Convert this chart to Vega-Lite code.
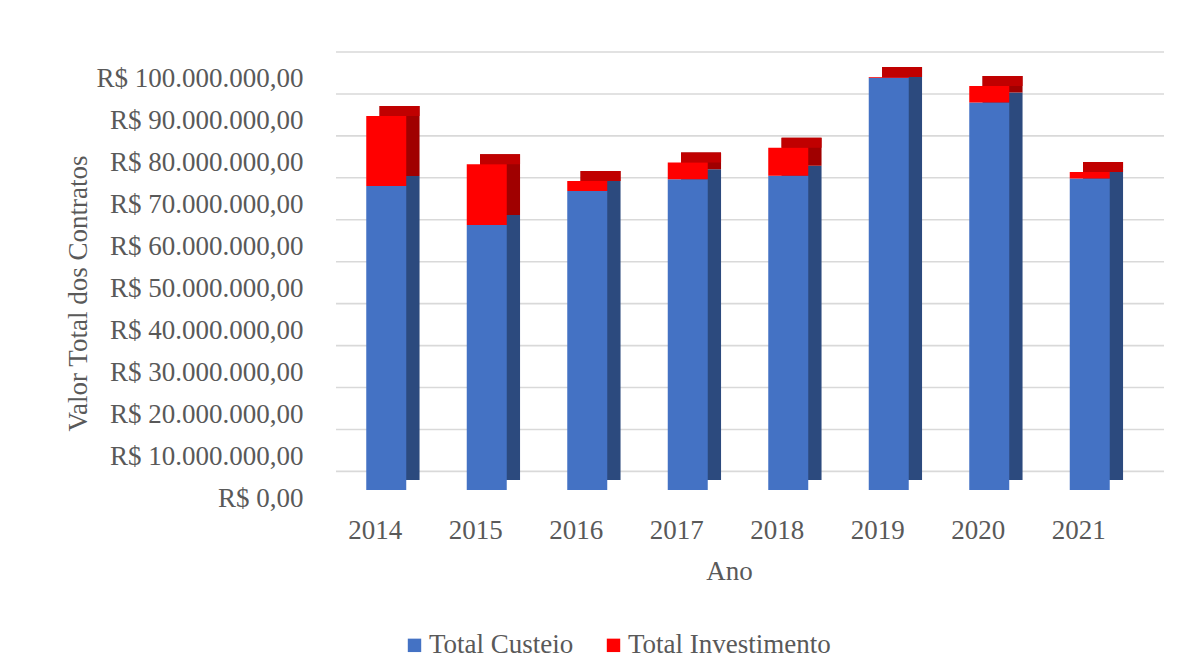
{
  "$schema": "https://vega.github.io/schema/vega-lite/v6.json",
  "autosize": "none",
  "width": 804,
  "height": 419.4,
  "padding": {"left": 336, "top": 70.6, "right": 62, "bottom": 182},
  "background": "white",
  "config": {
    "locale": {"number": {"decimal": ",", "thousands": ".", "grouping": [3], "currency": ["R$ ", ""]}},
    "font": "Liberation Serif",
    "view": {"stroke": null},
    "axis": {
      "labelFont": "Liberation Serif",
      "titleFont": "Liberation Serif",
      "labelColor": "#595959",
      "titleColor": "#595959",
      "labelFontSize": 27,
      "titleFontSize": 27,
      "titleFontWeight": "normal",
      "labelLimit": 0,
      "domain": false,
      "ticks": false,
      "grid": false
    },
    "legend": {
      "labelFont": "Liberation Serif",
      "labelFontSize": 27,
      "labelColor": "#595959",
      "labelLimit": 0,
      "symbolType": "square",
      "symbolSize": 180,
      "symbolStrokeWidth": 0,
      "labelOffset": 1,
      "columnPadding": 26
    }
  },
  "datasets": {
    "contratos": [
      {"ano": "2014", "serie": "Total Custeio", "valor": 72500000},
      {"ano": "2014", "serie": "Total Investimento", "valor": 16700000},
      {"ano": "2015", "serie": "Total Custeio", "valor": 63200000},
      {"ano": "2015", "serie": "Total Investimento", "valor": 14500000},
      {"ano": "2016", "serie": "Total Custeio", "valor": 71300000},
      {"ano": "2016", "serie": "Total Investimento", "valor": 2400000},
      {"ano": "2017", "serie": "Total Custeio", "valor": 74100000},
      {"ano": "2017", "serie": "Total Investimento", "valor": 4000000},
      {"ano": "2018", "serie": "Total Custeio", "valor": 74900000},
      {"ano": "2018", "serie": "Total Investimento", "valor": 6700000},
      {"ano": "2019", "serie": "Total Custeio", "valor": 98300000},
      {"ano": "2019", "serie": "Total Investimento", "valor": 150000},
      {"ano": "2020", "serie": "Total Custeio", "valor": 92400000},
      {"ano": "2020", "serie": "Total Investimento", "valor": 3900000},
      {"ano": "2021", "serie": "Total Custeio", "valor": 74300000},
      {"ano": "2021", "serie": "Total Investimento", "valor": 1500000}
    ],
    "grade": [
      {"v": 0}, {"v": 10000000}, {"v": 20000000}, {"v": 30000000}, {"v": 40000000},
      {"v": 50000000}, {"v": 60000000}, {"v": 70000000}, {"v": 80000000}, {"v": 90000000}, {"v": 100000000}
    ]
  },
  "layer": [
    {
      "data": {"name": "grade"},
      "mark": {"type": "rule", "xOffset": 24, "yOffset": -18.6, "color": "#D9D9D9", "strokeWidth": 1.6},
      "encoding": {
        "y": {
          "field": "v",
          "type": "quantitative",
          "scale": {"domain": [0, 100000000], "nice": false},
          "axis": {
            "title": "Valor Total dos Contratos",
            "values": [0, 10000000, 20000000, 30000000, 40000000, 50000000, 60000000, 70000000, 80000000, 90000000, 100000000],
            "format": "$,.2f",
            "labelOffset": 8,
            "labelPadding": 33,
            "titleX": -249.3,
            "titleY": 222.4,
            "titleBaseline": "alphabetic",
            "titleAngle": -90
          }
        }
      }
    },
    {
      "data": {"name": "contratos"},
      "mark": {"type": "bar", "xOffset": 13.3, "yOffset": -10, "width": {"band": 0.398}},
      "encoding": {
        "x": {
          "field": "ano",
          "type": "ordinal",
          "scale": {"paddingInner": 0, "paddingOuter": 0},
          "axis": {"title": "Ano", "labelAngle": 0, "labelOffset": -11, "labelPadding": 27, "titlePadding": 15, "titleX": 393}
        },
        "y": {
          "field": "valor",
          "type": "quantitative",
          "stack": "zero",
          "axis": {
            "title": "Valor Total dos Contratos",
            "values": [0, 10000000, 20000000, 30000000, 40000000, 50000000, 60000000, 70000000, 80000000, 90000000, 100000000],
            "format": "$,.2f",
            "labelOffset": 8,
            "labelPadding": 33,
            "titleX": -249.3,
            "titleY": 222.4,
            "titleBaseline": "alphabetic",
            "titleAngle": -90
          }
        },
        "detail": {"field": "serie"},
        "order": {"field": "serie", "sort": "ascending"},
        "color": {
          "condition": {"test": "datum.serie == 'Total Custeio'", "value": "#2C4A7E"},
          "value": "#A00000"
        }
      }
    },
    {
      "data": {"name": "contratos"},
      "transform": [
        {"joinaggregate": [{"op": "sum", "field": "valor", "as": "total"}], "groupby": ["ano"]},
        {"filter": "datum.serie == 'Total Investimento'"}
      ],
      "mark": {"type": "tick", "orient": "horizontal", "thickness": 10, "size": 40, "xOffset": 13.3, "yOffset": -5, "color": "#C00000", "opacity": 1},
      "encoding": {
        "x": {
          "field": "ano",
          "type": "ordinal",
          "axis": {"title": "Ano", "labelAngle": 0, "labelOffset": -11, "labelPadding": 27, "titlePadding": 15, "titleX": 393}
        },
        "y": {
          "field": "total",
          "type": "quantitative",
          "axis": {
            "title": "Valor Total dos Contratos",
            "values": [0, 10000000, 20000000, 30000000, 40000000, 50000000, 60000000, 70000000, 80000000, 90000000, 100000000],
            "format": "$,.2f",
            "labelOffset": 8,
            "labelPadding": 33,
            "titleX": -249.3,
            "titleY": 222.4,
            "titleBaseline": "alphabetic",
            "titleAngle": -90
          }
        }
      }
    },
    {
      "data": {"name": "contratos"},
      "mark": {"type": "bar", "width": {"band": 0.398}},
      "encoding": {
        "x": {
          "field": "ano",
          "type": "ordinal",
          "axis": {"title": "Ano", "labelAngle": 0, "labelOffset": -11, "labelPadding": 27, "titlePadding": 15, "titleX": 393}
        },
        "y": {
          "field": "valor",
          "type": "quantitative",
          "stack": "zero",
          "axis": {
            "title": "Valor Total dos Contratos",
            "values": [0, 10000000, 20000000, 30000000, 40000000, 50000000, 60000000, 70000000, 80000000, 90000000, 100000000],
            "format": "$,.2f",
            "labelOffset": 8,
            "labelPadding": 33,
            "titleX": -249.3,
            "titleY": 222.4,
            "titleBaseline": "alphabetic",
            "titleAngle": -90
          }
        },
        "order": {"field": "serie", "sort": "ascending"},
        "color": {
          "field": "serie",
          "type": "nominal",
          "scale": {"domain": ["Total Custeio", "Total Investimento"], "range": ["#4472C4", "#FF0000"]},
          "legend": {"title": null, "orient": "none", "direction": "horizontal", "legendX": 65, "legendY": 561}
        }
      }
    }
  ]
}
